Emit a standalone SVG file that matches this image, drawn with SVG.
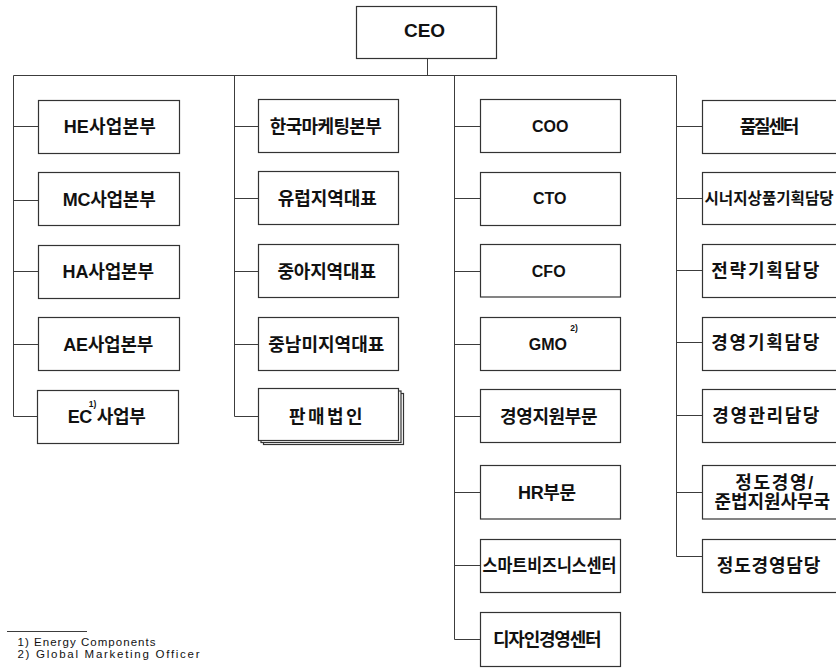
<svg xmlns="http://www.w3.org/2000/svg" width="836" height="669" viewBox="0 0 836 669">
<style>
.bg{fill:#ffffff}
.box{fill:#ffffff;stroke:#333333;stroke-width:1.2}
.ln{fill:none;stroke:#3c3c3c;stroke-width:1}
.t{font-family:"Liberation Sans","Noto Sans CJK KR",sans-serif;font-size:18px;font-weight:600;fill:#111111;text-anchor:middle}
.l{font-size:16px}
.ceo{font-size:19px;font-weight:700}
.sup{font-family:"Liberation Sans",sans-serif;font-size:8.5px;font-weight:700;fill:#111111;text-anchor:middle}
.fn{font-family:"Liberation Sans",sans-serif;font-size:11.5px;fill:#111111}
</style>
<rect class="bg" x="0" y="0" width="836" height="669"/>

<g id="connectors">
<path class="ln" d="M427.5,58.5V75.5M13.5,75.5H676.5"/>
<path class="ln" d="M13.5,75.5V416.5M13.5,126.5H38.5M13.5,200.5H38.5M13.5,271.5H38.5M13.5,344.5H38.5M13.5,416.5H38.5"/>
<path class="ln" d="M234.5,75.5V416.5M234.5,126.5H258.5M234.5,198.5H258.5M234.5,271.5H258.5M234.5,344.5H258.5M234.5,416.5H258.5"/>
<path class="ln" d="M454.5,75.5V639.5M454.5,126.5H480.5M454.5,198.5H480.5M454.5,271.5H480.5M454.5,344.5H480.5M454.5,416.5H480.5M454.5,492.5H480.5M454.5,565.5H480.5M454.5,639.5H480.5"/>
<path class="ln" d="M676.5,75.5V556.5M676.5,126.5H702.5M676.5,198.5H702.5M676.5,270.5H702.5M676.5,342.5H702.5M676.5,415.5H702.5M676.5,492.5H702.5M676.5,556.5H702.5"/>
</g>

<g id="ceo"><rect class="box" x="356.5" y="6.5" width="140" height="52"/><text class="t ceo" x="424.5" y="36.7">CEO</text></g>

<g id="he"><rect class="box" x="38.5" y="100.5" width="141" height="53"/><text class="t" x="109.7" y="133" textLength="92" lengthAdjust="spacing">HE사업본부</text></g>
<g id="mc"><rect class="box" x="38.5" y="172.5" width="141" height="53"/><text class="t" x="109.2" y="205.8" textLength="93" lengthAdjust="spacing">MC사업본부</text></g>
<g id="ha"><rect class="box" x="38.5" y="245.5" width="141" height="53"/><text class="t" x="108.3" y="278" textLength="91.5" lengthAdjust="spacing">HA사업본부</text></g>
<g id="ae"><rect class="box" x="38.5" y="317.5" width="141" height="53"/><text class="t" x="108.3" y="350.5" textLength="90" lengthAdjust="spacing">AE사업본부</text></g>
<g id="ec"><rect class="box" x="37.5" y="390.5" width="141" height="53"/><text class="t" x="106.7" y="423" textLength="78" lengthAdjust="spacing">EC 사업부</text><text class="sup" x="92.5" y="406.5">1)</text></g>

<g id="korea"><rect class="box" x="258.5" y="99.5" width="140" height="53"/><text class="t" x="325.8" y="132.8" textLength="112" lengthAdjust="spacing">한국마케팅본부</text></g>
<g id="europe"><rect class="box" x="258.5" y="171.5" width="140" height="53"/><text class="t" x="327.3" y="204.8" textLength="99" lengthAdjust="spacing">유럽지역대표</text></g>
<g id="cis"><rect class="box" x="258.5" y="244.5" width="140" height="53"/><text class="t" x="326.7" y="277.8" textLength="98.5" lengthAdjust="spacing">중아지역대표</text></g>
<g id="latam"><rect class="box" x="258.5" y="317.5" width="140" height="53"/><text class="t" x="326.3" y="350.8" textLength="116" lengthAdjust="spacing">중남미지역대표</text></g>
<g id="sales"><rect class="box" x="263.5" y="393.5" width="140" height="51"/><rect class="box" x="261" y="391" width="140" height="51.5"/><rect class="box" x="258.5" y="388.5" width="140" height="52"/><text class="t" x="325.8" y="422.8" textLength="73.5" lengthAdjust="spacing">판매법인</text></g>

<g id="coo"><rect class="box" x="480.5" y="99.5" width="140" height="53"/><text class="t l" x="550.2" y="132.2">COO</text></g>
<g id="cto"><rect class="box" x="480.5" y="172.5" width="140" height="53"/><text class="t l" x="549.7" y="204.2">CTO</text></g>
<g id="cfo"><rect class="box" x="480.5" y="244.5" width="140" height="52.5"/><text class="t l" x="548.7" y="277.2">CFO</text></g>
<g id="gmo"><rect class="box" x="480.5" y="317.5" width="140" height="53"/><text class="t l" x="547.8" y="350.2">GMO</text><text class="sup" x="574" y="331">2)</text></g>
<g id="support"><rect class="box" x="480.5" y="389.5" width="140" height="53"/><text class="t" x="548.8" y="422.8" textLength="97.5" lengthAdjust="spacing">경영지원부문</text></g>
<g id="hr"><rect class="box" x="480.5" y="465.5" width="140" height="53.5"/><text class="t" x="547" y="498.8" textLength="58" lengthAdjust="spacing">HR부문</text></g>
<g id="smart"><rect class="box" x="480.5" y="539.5" width="140" height="53"/><text class="t" x="549.5" y="571.8" textLength="134" lengthAdjust="spacingAndGlyphs">스마트비즈니스센터</text></g>
<g id="design"><rect class="box" x="480.5" y="612.5" width="140" height="54"/><text class="t" x="547.3" y="645.8" textLength="108.5" lengthAdjust="spacing">디자인경영센터</text></g>

<g id="quality"><rect class="box" x="702.5" y="100.5" width="140" height="53"/><text class="t" x="769.5" y="132.8" textLength="59.5" lengthAdjust="spacing">품질센터</text></g>
<g id="synergy"><rect class="box" x="702.5" y="172.5" width="140" height="52"/><text class="t" x="704.5" y="204.3" style="text-anchor:start;font-size:15.6px">시너지상품기획담당</text></g>
<g id="strategy"><rect class="box" x="702.5" y="244.5" width="140" height="53"/><text class="t" x="765.3" y="276.8" textLength="108" lengthAdjust="spacing">전략기획담당</text></g>
<g id="planning"><rect class="box" x="702.5" y="317.5" width="140" height="53"/><text class="t" x="765.3" y="349.3" textLength="108" lengthAdjust="spacing">경영기획담당</text></g>
<g id="mgmt"><rect class="box" x="702.5" y="389.5" width="140" height="53"/><text class="t" x="765.8" y="422.3" textLength="107" lengthAdjust="spacing">경영관리담당</text></g>
<g id="compliance"><rect class="box" x="702.5" y="465.5" width="140" height="53.5"/><text class="t" x="774.2" y="488.8" textLength="78" lengthAdjust="spacing">정도경영/</text><text class="t" x="772.2" y="507.8" textLength="115.5" lengthAdjust="spacing">준법지원사무국</text></g>
<g id="ethics"><rect class="box" x="702.5" y="539.5" width="140" height="53"/><text class="t" x="768.5" y="571.8" textLength="103.5" lengthAdjust="spacing">정도경영담당</text></g>

<g id="footnotes">
<path class="ln" d="M7,631.5H87"/>
<text class="fn" x="17.5" y="645.7" textLength="138" lengthAdjust="spacing">1) Energy Components</text>
<text class="fn" x="17.5" y="658.3" textLength="182" lengthAdjust="spacing">2) Global Marketing  Officer</text>
</g>
</svg>
